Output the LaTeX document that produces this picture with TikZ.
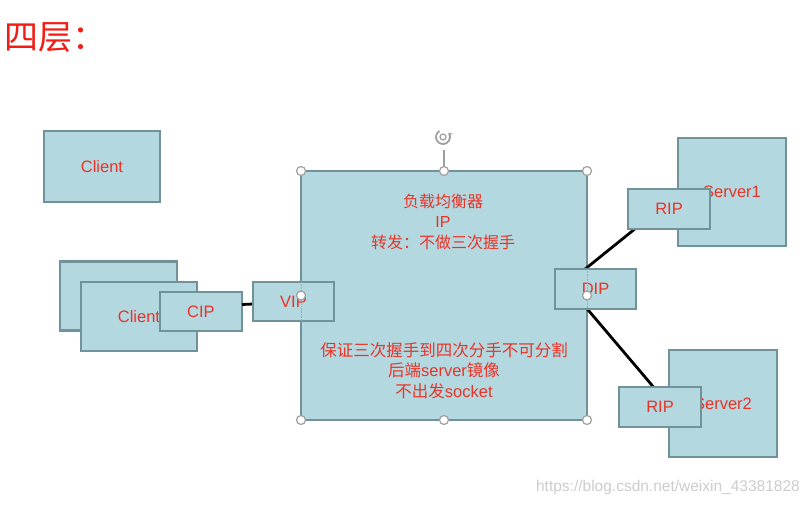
\documentclass[tikz,border=0pt]{standalone}
\usepackage{fontspec}
\setmainfont{Liberation Sans}
\newfontfamily\cjk{Noto Sans CJK SC}
\usetikzlibrary{calc,arrows.meta}
\definecolor{boxfill}{RGB}{180,216,224}
\definecolor{boxline}{RGB}{112,146,152}
\definecolor{txtred}{RGB}{232,52,40}
\definecolor{titlered}{RGB}{240,30,20}
\definecolor{wmark}{RGB}{205,205,205}
\begin{document}
\begin{tikzpicture}[x=1pt,y=-1pt,
  box/.style={draw=boxline, fill=boxfill, line width=2.2pt, inner sep=0pt, outer sep=0pt,
    text=txtred, font=\fontsize{16.5}{19}\selectfont},
  lbtext/.style={text=txtred, align=center, inner sep=0pt, font=\fontsize{16}{20.5}\selectfont},
  link/.style={line width=2.8pt, black},
  handle/.style={draw=gray!75, fill=white, line width=1.2pt}]
\path[use as bounding box, fill=white] (0,0) rectangle (808,505);

% title
\node[anchor=west, inner sep=0pt, text=titlered, font=\cjk\fontsize{34}{34}\selectfont] (title) at (4,38) {四层：};

% clients
\node[box, minimum width=116, minimum height=71] (client1) at (102,166.5) {Client};
\node[box, minimum width=117, minimum height=69] (clientback) at (118.5,296) {};
\node[box, minimum width=116, minimum height=69] (clientfront) at (139,316.5) {Client};
\node[box, minimum width=82, minimum height=39] (cip) at (201,311.5) {CIP};

% load balancer
\node[box, minimum width=286, minimum height=249] (lb) at (444,295.5) {};
\node[lbtext] (lbtop) at (443,221.5) {{\cjk 负载均衡器}\\IP\\{\cjk 转发：不做三次握手}};
\node[lbtext, font=\fontsize{16.5}{20.5}\selectfont] (lbbottom) at (444,370.5) {{\cjk 保证三次握手到四次分手不可分割}\\{\cjk 后端}server{\cjk 镜像}\\{\cjk 不出发}socket};

% link client side
\draw[link] ($(cip.north east)!0.32!(cip.south east)$) -- (lb.west |- 0,302);

\node[box, minimum width=81, minimum height=39] (vip) at (293.5,301.5) {VIP};

% servers
\node[box, minimum width=108, minimum height=108] (server1) at (732,192) {Server1};
\node[box, minimum width=108, minimum height=107] (server2) at (723,403.5) {Server2};

\coordinate (d1) at (579,274);
\coordinate (r1) at (641,224);
\coordinate (d2) at (582.6,303.5);
\coordinate (r2) at (659,393.5);
\draw[link] (d1) -- (r1);
\draw[link] (d2) -- (r2);

\node[box, minimum width=82, minimum height=40] (rip1) at (669,209) {RIP};
\node[box, minimum width=82, minimum height=40] (rip2) at (660,407) {RIP};
\node[box, minimum width=81, minimum height=40] (dip) at (595.5,289) {DIP};

% selection outline & handles
\draw[densely dotted, gray!70, line width=0.6pt] (lb.west |- vip.north) -- (lb.west |- vip.south);
\draw[densely dotted, gray!70, line width=0.6pt] (lb.east |- dip.north) -- (lb.east |- dip.south);
\coordinate (rot) at (443,137);
\draw[gray!75, line width=1.2pt] (lb.north) -- ($(lb.north)+(0,-21)$);
\draw[gray!75, line width=1.8pt, -{Stealth[length=4pt,width=5pt]}] (rot) ++(120:7pt) arc[start angle=120, end angle=400, radius=7pt];
\draw[gray!75, line width=1.2pt] (rot) circle[radius=3pt];
\foreach \a in {north west,north,north east,west,east,south west,south,south east}
  \path[handle] (lb.\a) circle[radius=4.5pt];

% watermark
\node[anchor=east, inner sep=0pt, text=wmark, font=\fontsize{15.5}{16}\selectfont] (wm) at (800,487) {https://blog.csdn.net/weixin\_43381828};
\end{tikzpicture}
\end{document}
